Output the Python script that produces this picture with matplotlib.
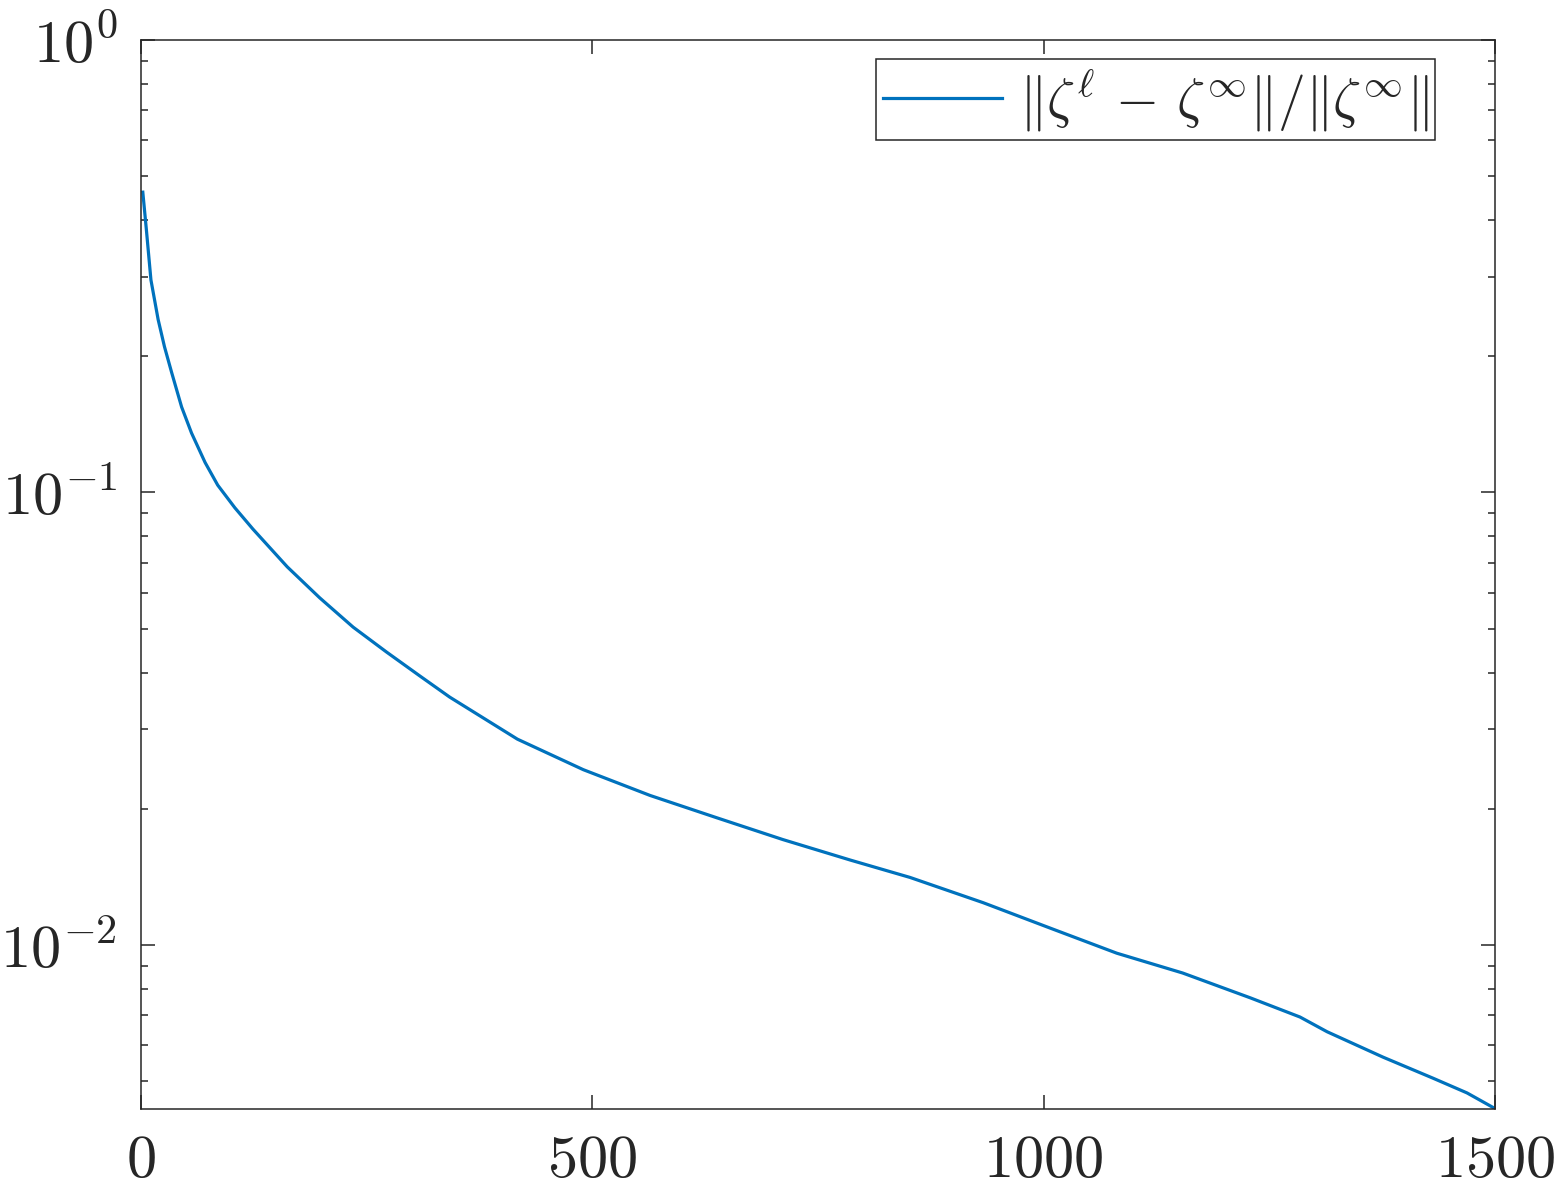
import numpy as np
import matplotlib
matplotlib.use("Agg")
import matplotlib.pyplot as plt
from matplotlib.ticker import FixedLocator, LogLocator, FuncFormatter, NullFormatter

# iteration index and relative error
iters = [2, 6, 11, 19, 26, 34, 45, 56, 71, 85, 104, 124, 162, 198, 235, 272, 309,
         342, 417, 490, 564, 638, 711, 786, 852, 933, 1007, 1081, 1154, 1229, 1284,
         1314, 1376, 1431, 1469, 1500]
rel_err = [0.461, 0.380, 0.295, 0.241, 0.210, 0.184, 0.1545, 0.1353, 0.1165, 0.1038,
           0.0925, 0.0830, 0.0685, 0.0585, 0.0504, 0.0444, 0.0393,
           0.0353, 0.0285, 0.0244, 0.0214, 0.0191, 0.0171, 0.0154, 0.0141, 0.0124,
           0.0109, 0.00959, 0.00867, 0.00764, 0.00693, 0.00643, 0.00565, 0.00508,
           0.00471, 0.00435]
xticks = [0, 500, 1000, 1500]
label = r"$\|\zeta^{\ell}\,-\,\zeta^{\infty}\|/\|\zeta^{\infty}\|$"

plt.rcParams["mathtext.fontset"] = "cm"
dark = "#262626"

fig = plt.figure(figsize=(15.58, 11.88), dpi=100)
ax = fig.add_axes([141 / 1558, 1 - 1109 / 1188, 1354 / 1558, 1069 / 1188])

ax.semilogy(iters, rel_err, color="#0072BD", linewidth=2.3, label=label)

ax.set_xlim(0, 1500)
ax.set_ylim(0.00434, 1)
ax.xaxis.set_major_locator(FixedLocator(xticks))
ax.xaxis.set_major_formatter(FuncFormatter(lambda v, p: f"${int(v)}$"))
ax.yaxis.set_major_locator(LogLocator(base=10))
ax.yaxis.set_minor_locator(LogLocator(base=10, subs=np.arange(2, 10)))
ax.yaxis.set_minor_formatter(NullFormatter())
ax.yaxis.set_major_formatter(FuncFormatter(lambda v, p: rf"$10^{{{int(round(np.log10(v)))}}}$"))

ax.tick_params(which="both", direction="in", top=True, right=True,
               color=dark, labelcolor=dark, labelsize=43.5, width=1.1)
ax.tick_params(which="major", length=10)
ax.tick_params(which="minor", length=5)
ax.tick_params(axis="x", pad=16)
ax.tick_params(axis="y", pad=17)
for sp in ax.spines.values():
    sp.set_color(dark)
    sp.set_linewidth(1.1)

leg = ax.legend(loc="upper right", bbox_to_anchor=(0.9557, 0.9822), borderaxespad=0,
                fontsize=40, handlelength=2.15, fancybox=False, framealpha=1,
                edgecolor=dark, borderpad=0.12, handletextpad=0.3)
leg.get_frame().set_linewidth(1.1)
for t in leg.get_texts():
    t.set_color(dark)

fig.savefig("out.png", dpi=100)
